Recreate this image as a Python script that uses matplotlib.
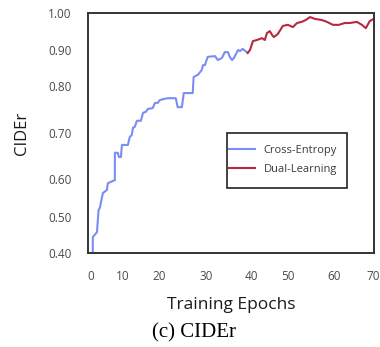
import numpy as np
import matplotlib
matplotlib.use('Agg')
import matplotlib.pyplot as plt
from matplotlib.patches import Rectangle

plt.rcParams['font.family'] = ['Open Sans', 'DejaVu Sans']

# tick labels (the axes in the source figure are not evenly spaced)
x_ticks = [0, 10, 20, 30, 40, 50, 60, 70]
y_ticks = [1.00, 0.90, 0.80, 0.70, 0.60, 0.50, 0.40]
# relative positions of the ticks along each axis
x_tick_pos = [3, 35, 71, 118, 164, 200, 246, 285]
y_tick_pos = [0, 37, 73, 120, 166, 204, 240]

# Cross-Entropy curve (epoch, CIDEr)
ce_epoch = [0.6, 0.6, 1.9, 2.4, 2.8, 3.75, 5.0, 5.3, 7.5, 7.5, 8.4, 8.75, 9.4, 9.7,
            11.4, 11.9, 12.5, 12.8, 13.3, 13.9, 15.0, 15.6, 16.4, 16.9, 18.3, 18.9,
            19.7, 20.2, 20.9, 21.9, 23.6, 24.0, 24.9, 25.3, 27.2, 27.3, 27.4, 28.3,
            29.1, 29.4, 29.8, 30.4, 32.0, 32.6, 33.5, 34.1, 34.8, 35.2, 35.7, 36.1,
            37.0, 37.4, 38.0, 39.1]
ce_score = [0.400, 0.444, 0.458, 0.518, 0.524, 0.563, 0.571, 0.589, 0.597, 0.657,
            0.657, 0.648, 0.648, 0.674, 0.674, 0.691, 0.696, 0.711, 0.713, 0.726,
            0.726, 0.743, 0.745, 0.751, 0.753, 0.764, 0.764, 0.770, 0.772, 0.774,
            0.774, 0.755, 0.755, 0.785, 0.785, 0.803, 0.825, 0.831, 0.844, 0.858,
            0.858, 0.881, 0.883, 0.872, 0.878, 0.894, 0.894, 0.881, 0.872, 0.878,
            0.900, 0.897, 0.903, 0.892]

# Dual-Learning curve (epoch, CIDEr)
dl_epoch = [39.1, 39.6, 40.3, 41.4, 42.8, 43.6, 44.2, 45.0, 45.6, 46.1, 47.2, 48.6,
            50.0, 51.1, 52.0, 53.0, 53.9, 54.8, 55.9, 57.4, 58.5, 59.8, 61.3, 62.8,
            64.1, 65.9, 67.2, 68.2, 69.2, 70.2]
dl_score = [0.892, 0.900, 0.924, 0.927, 0.932, 0.927, 0.946, 0.951, 0.941, 0.935,
            0.943, 0.965, 0.968, 0.962, 0.973, 0.976, 0.981, 0.989, 0.984, 0.981,
            0.976, 0.968, 0.968, 0.973, 0.973, 0.976, 0.968, 0.959, 0.978, 0.984]


# piecewise linear scales so the ticks land where they are in the source
def x_forward(v):
    v = np.asarray(v, dtype=float)
    lo = x_tick_pos[0] + (v - x_ticks[0]) * (x_tick_pos[1] - x_tick_pos[0]) / 10
    hi = x_tick_pos[-1] + (v - x_ticks[-1]) * (x_tick_pos[-1] - x_tick_pos[-2]) / 10
    return np.where(v < x_ticks[0], lo, np.where(v > x_ticks[-1], hi, np.interp(v, x_ticks, x_tick_pos)))


def x_inverse(p):
    p = np.asarray(p, dtype=float)
    lo = x_ticks[0] + (p - x_tick_pos[0]) * 10 / (x_tick_pos[1] - x_tick_pos[0])
    hi = x_ticks[-1] + (p - x_tick_pos[-1]) * 10 / (x_tick_pos[-1] - x_tick_pos[-2])
    return np.where(p < x_tick_pos[0], lo, np.where(p > x_tick_pos[-1], hi, np.interp(p, x_tick_pos, x_ticks)))


yt = y_ticks[::-1]
yp = [-p for p in y_tick_pos[::-1]]


def y_forward(v):
    return np.interp(np.asarray(v, dtype=float), yt, yp)


def y_inverse(p):
    return np.interp(np.asarray(p, dtype=float), yp, yt)


W, H = 380, 347
fig = plt.figure(figsize=(W / 100, H / 100), dpi=100)
ax = fig.add_axes([88 / W, 1 - 253 / H, 286 / W, 240 / H])

ax.set_xscale('function', functions=(x_forward, x_inverse))
ax.set_yscale('function', functions=(y_forward, y_inverse))

ax.plot(ce_epoch, ce_score, color='#7b8cf5', lw=1.5, label='Cross-Entropy')
ax.plot(dl_epoch, dl_score, color='#b8293f', lw=1.5, label='Dual-Learning')

ax.set_xlim(-0.9, 70.3)
ax.set_ylim(0.40, 1.00)
ax.set_xticks(x_ticks)
ax.set_yticks(y_ticks)
ax.set_yticklabels([f"{v:.2f}" for v in y_ticks])
ax.minorticks_off()
ax.tick_params(length=0, labelsize=8.5, labelcolor='#4a4a4a', pad=12)

for s in ax.spines.values():
    s.set_color('#333333')
    s.set_linewidth(1.4)

ax.set_xlabel("Training Epochs", fontsize=12.5, color='#1a1a1a', labelpad=10)
ax.set_ylabel("CIDEr", fontsize=12, color='#1a1a1a', labelpad=13)

# legend entries without frame; box drawn separately to match padding
leg = ax.legend(loc='upper left', bbox_to_anchor=(229 / W, 1 - 145 / H),
                bbox_transform=fig.transFigure, fontsize=8, frameon=False,
                borderpad=0, labelspacing=0.75, handlelength=2.3,
                handletextpad=0.8, borderaxespad=0)
for t in leg.get_texts():
    t.set_color('#3a3a3a')
fig.patches.append(Rectangle((227 / W, 1 - 188 / H), 120 / W, 55 / H,
                             transform=fig.transFigure, fill=False,
                             edgecolor='#222222', linewidth=1.2))

fig.text(194 / W, 1 - 333 / H, "(c) CIDEr", family='Liberation Serif',
         fontsize=15, ha='center', va='center', color='black')

fig.savefig('out.png', dpi=100)
